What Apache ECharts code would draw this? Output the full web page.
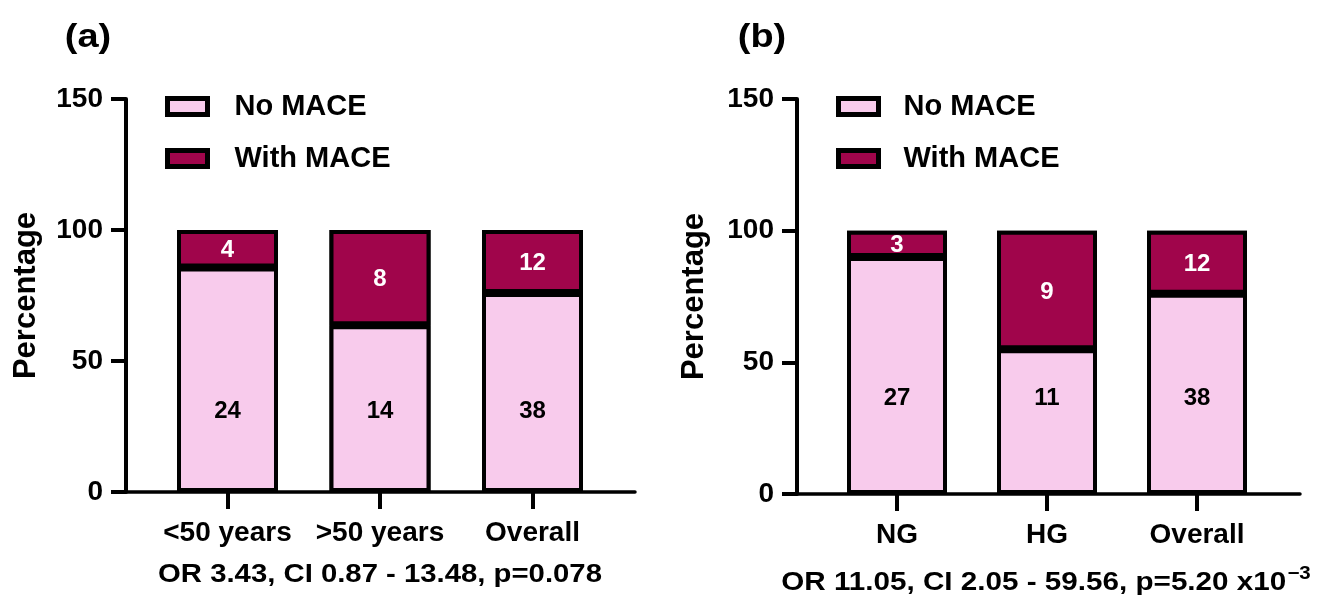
<!DOCTYPE html>
<html>
<head>
<meta charset="utf-8">
<script src="https://cdn.jsdelivr.net/npm/echarts@6/dist/echarts.min.js"></script>
<style>
  html, body { margin: 0; padding: 0; background: #fff; }
  #chart { width: 1317px; height: 597px; }
</style>
</head>
<body>
<div id="chart"></div>
<script>
// Panel (a): age groups
const groupsA = ['<50 years', '>50 years', 'Overall'];
const noMaceA = [24, 14, 38];
const withMaceA = [4, 8, 12];
// Panel (b): NG / HG groups
const groupsB = ['NG', 'HG', 'Overall'];
const noMaceB = [27, 11, 38];
const withMaceB = [3, 9, 12];

const seriesNames = ['No MACE', 'With MACE'];
const yMin = 0, yMax = 150, yStep = 50;

const PINK = '#F8CBEC';
const WINE = '#A0054B';
const FONT = "'Liberation Sans', Arial, sans-serif";

// counts -> percentage of each group's total, keeping the count for the label
function toPct(part, a, b) {
  return part.map((v, i) => ({ value: v / (a[i] + b[i]) * 100, count: v }));
}

// each panel: a frame grid (axis lines) and a narrower grid holding the bars
const panels = [
  { frame: { left: 126, width: 509, top: 99, height: 393 },
    bars:  { left: 151.25, width: 457.5, top: 99, height: 393 },
    cats: groupsA, no: noMaceA, yes: withMaceA, barW: 101, noDist: 69,
    nameGap: 84, legendLeft: 165, legendPad: 22 },
  { frame: { left: 797, width: 503, top: 99, height: 395 },
    bars:  { left: 822, width: 450, top: 99, height: 395 },
    cats: groupsB, no: noMaceB, yes: withMaceB, barW: 100, noDist: 84,
    nameGap: 87, legendLeft: 836, legendPad: 20 }
];

const grid = [], xAxis = [], yAxis = [], series = [], legend = [];

panels.forEach((p, k) => {
  const gf = grid.length; grid.push(p.frame);
  const gb = grid.length; grid.push(p.bars);

  // frame: baseline and percentage axis
  xAxis.push({
    gridIndex: gf, type: 'value', min: 0, max: 1,
    axisLine: { show: true, lineStyle: { color: '#000', width: 3.5 } },
    axisTick: { show: false }, axisLabel: { show: false }, splitLine: { show: false }
  });
  yAxis.push({
    gridIndex: gf, type: 'value', min: yMin, max: yMax, interval: yStep,
    axisLine: { show: true, lineStyle: { color: '#000', width: 4 } },
    axisTick: { show: true, length: 15, lineStyle: { color: '#000', width: 4 } },
    axisLabel: { margin: 23, color: '#000', fontFamily: FONT, fontWeight: 'bold', fontSize: 28 },
    splitLine: { show: false },
    name: 'Percentage', nameLocation: 'middle', nameRotate: 90, nameGap: p.nameGap,
    nameTextStyle: { color: '#000', fontFamily: FONT, fontWeight: 'bold', fontSize: 31 }
  });

  // bars: category axis with ticks and labels only
  const xb = xAxis.length;
  xAxis.push({
    gridIndex: gb, type: 'category', data: p.cats,
    axisLine: { show: false },
    axisTick: { show: true, alignWithLabel: true, length: 17, lineStyle: { color: '#000', width: 4 } },
    axisLabel: { interval: 0, margin: 27, color: '#000', fontFamily: FONT, fontWeight: 'bold', fontSize: 28 },
    splitLine: { show: false }
  });
  const yb = yAxis.length;
  yAxis.push({ gridIndex: gb, type: 'value', min: yMin, max: yMax, interval: yStep, show: false });

  // black column for each group's total, under the two stacked segments
  series.push({
    name: 'Total', type: 'bar', xAxisIndex: xb, yAxisIndex: yb,
    barWidth: p.barW, barGap: '-100%', z: 1, silent: true,
    data: p.no.map((v, i) => (v + p.yes[i]) / (v + p.yes[i]) * 100),
    itemStyle: { color: '#000' }
  });

  const stack = 'panel' + k;
  series.push({
    name: seriesNames[0], type: 'bar', stack, xAxisIndex: xb, yAxisIndex: yb,
    barWidth: p.barW, barGap: '-100%', z: 2,
    data: toPct(p.no, p.no, p.yes),
    itemStyle: { color: PINK, borderColor: '#000', borderWidth: 4 },
    label: { show: true, position: 'insideBottom', distance: p.noDist,
      formatter: d => d.data.count,
      color: '#000', fontFamily: FONT, fontWeight: 'bold', fontSize: 24 }
  });
  series.push({
    name: seriesNames[1], type: 'bar', stack, xAxisIndex: xb, yAxisIndex: yb,
    barWidth: p.barW, barGap: '-100%', z: 2,
    data: toPct(p.yes, p.no, p.yes),
    itemStyle: { color: WINE, borderColor: '#000', borderWidth: 4 },
    label: { show: true, position: 'inside', offset: [0, 2],
      formatter: d => d.data.count,
      color: '#fff', fontFamily: FONT, fontWeight: 'bold', fontSize: 24 }
  });

  legend.push({
    data: seriesNames, orient: 'vertical',
    left: p.legendLeft, top: 92, padding: 0,
    itemWidth: 40, itemHeight: 16, itemGap: 23,
    icon: 'rect',
    itemStyle: { borderColor: '#000', borderWidth: 5 },
    textStyle: { color: '#000', fontFamily: FONT, fontWeight: 'bold', fontSize: 29, padding: [0, 0, 0, p.legendPad] },
    selectedMode: false
  });
});

const bold = (size) => ({ fontFamily: FONT, fontWeight: 'bold', fontSize: size, fill: '#000' });

const graphic = [
  { type: 'text', x: 88, y: 38, scaleX: 1.15,
    style: Object.assign({ text: '(a)', align: 'center', verticalAlign: 'middle' }, bold(33)) },
  { type: 'text', x: 762, y: 38, scaleX: 1.15,
    style: Object.assign({ text: '(b)', align: 'center', verticalAlign: 'middle' }, bold(33)) },
  { type: 'text', x: 380, y: 575, scaleX: 1.127,
    style: Object.assign({ text: 'OR 3.43, CI 0.87 - 13.48, p=0.078', align: 'center', verticalAlign: 'middle' }, bold(26)) },
  { type: 'text', x: 1046, y: 583, scaleX: 1.14,
    style: Object.assign({
      text: 'OR 11.05, CI 2.05 - 59.56, p=5.20 x10{sup|−3}', align: 'center', verticalAlign: 'middle',
      rich: { sup: { fontFamily: FONT, fontWeight: 'bold', fontSize: 18, fill: '#000', padding: [0, 0, 18, 1] } }
    }, bold(26)) }
];

const chart = echarts.init(document.getElementById('chart'), null, { renderer: 'canvas' });
chart.setOption({
  backgroundColor: '#fff',
  animation: false,
  grid, xAxis, yAxis, series, legend, graphic
});
</script>
</body>
</html>
